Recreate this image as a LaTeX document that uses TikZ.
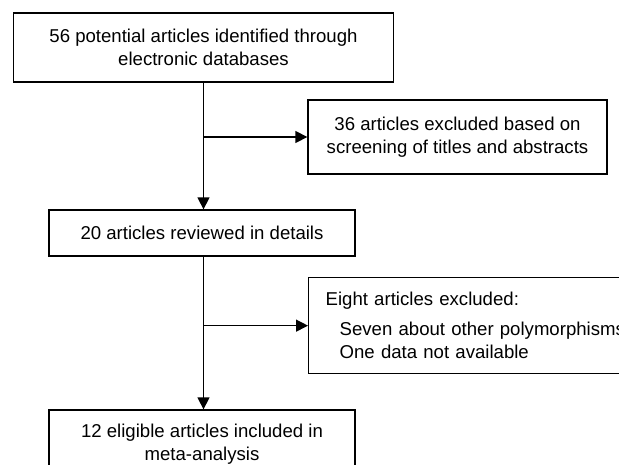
\documentclass[tikz,border=0pt]{standalone}
\usepackage{fontspec}
\setmainfont{Liberation Sans}
\usetikzlibrary{arrows.meta}
\usetikzlibrary{positioning}

\begin{document}
\begin{tikzpicture}[->,>={Triangle[length=12pt,width=12pt]},x=1pt,y=-1pt,line width=1.3pt]
	\tikzset{stepbox/.style = {shape=rectangle, draw, align=center, inner sep=0pt, font=\fontsize{18.6pt}{23pt}\selectfont}}
	\useasboundingbox (0,0) rectangle (619,464);
	\clip (0,0) rectangle (619,464);
	\node[stepbox, minimum width=380pt, minimum height=69pt] (IDENT) at (203.5,47.5)
	{56 potential articles identified through\\ electronic databases};
	\node[stepbox, minimum width=299pt, minimum height=74pt] (SCREEN) at (457.5,137)
	{36 articles excluded based on\\ screening of titles and abstracts};
	\node[stepbox, minimum width=306pt, minimum height=46pt] (REVIEW) at (202,233)
	{20 articles reviewed in details};
	\node[stepbox, anchor=north west, align=left, text width=330pt, inner xsep=17pt, minimum height=96pt] (EXCL) at (308,277)
	{Eight articles excluded:\\[7pt]
		\hspace*{14pt}Seven about other polymorphisms\\
		\hspace*{14pt}One data not available};
	\node[stepbox, minimum width=306pt, minimum height=69pt] (INCL) at (202,444.5)
	{12 eligible articles included in\\ meta-analysis};
	
	\draw (IDENT.south) -- (IDENT.south |- REVIEW.north);
	\draw (IDENT.south |- SCREEN.west) -- (SCREEN.west);
	\draw (IDENT.south |- REVIEW.south) -- (IDENT.south |- INCL.north);
	\draw (IDENT.south |- EXCL.west) -- (EXCL.west);
\end{tikzpicture}
\end{document}
